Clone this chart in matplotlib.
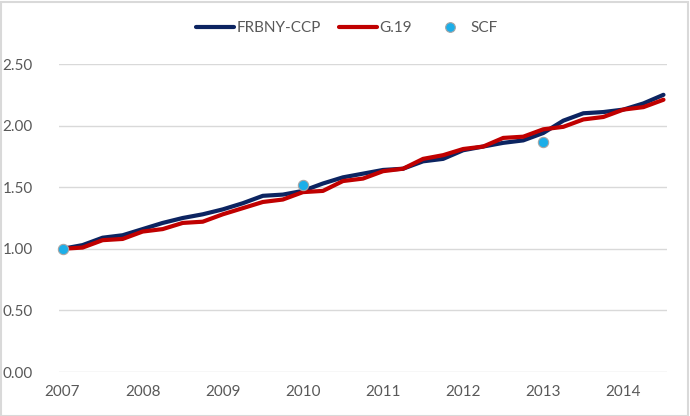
import matplotlib
matplotlib.use("Agg")
import matplotlib.pyplot as plt
from matplotlib.lines import Line2D
from matplotlib.patches import Rectangle

plt.rcParams['font.family'] = ['Lato', 'DejaVu Sans']

# Quarterly index values, 2007Q1 .. 2014Q3
quarters = [2007 + i * 0.25 for i in range(31)]
frbny_ccp = [1.00, 1.03, 1.09, 1.11, 1.16, 1.21, 1.25, 1.28, 1.32, 1.37,
             1.43, 1.44, 1.47, 1.53, 1.58, 1.61, 1.64, 1.65, 1.71, 1.73,
             1.80, 1.83, 1.86, 1.88, 1.94, 2.04, 2.10, 2.11, 2.13, 2.18, 2.25]
g19 = [1.00, 1.01, 1.07, 1.08, 1.14, 1.16, 1.21, 1.22, 1.28, 1.33,
       1.38, 1.40, 1.46, 1.47, 1.55, 1.57, 1.63, 1.65, 1.73, 1.76,
       1.81, 1.83, 1.90, 1.91, 1.97, 1.99, 2.05, 2.07, 2.13, 2.15, 2.21]
scf_years = [2007, 2010, 2013]
scf = [1.00, 1.52, 1.87]

year_ticks = [2007, 2008, 2009, 2010, 2011, 2012, 2013, 2014]
y_ticks = [0.0, 0.5, 1.0, 1.5, 2.0, 2.5]

c_blue = '#0C2461'
c_red = '#C00000'
c_scf = '#1CAEE8'
c_text = '#595959'
c_grid = '#D9D9D9'

fig = plt.figure(figsize=(6.9, 4.16), dpi=100)
ax = fig.add_axes([59 / 690, 1 - 372 / 416, (667 - 59) / 690, (372 - 64) / 416])

ax.plot(quarters, frbny_ccp, color=c_blue, lw=3.0, solid_joinstyle='round',
        solid_capstyle='round', zorder=3)
ax.plot(quarters, g19, color=c_red, lw=3.0, solid_joinstyle='round',
        solid_capstyle='round', zorder=4)
ax.scatter(scf_years, scf, s=55, color=c_scf, edgecolor='#A6A6A6', linewidth=0.8,
           zorder=5, clip_on=False)

ax.set_xlim(2006.956, 2014.544)
ax.set_ylim(0, 2.5)
ax.set_xticks(year_ticks)
ax.set_xticklabels([str(y) for y in year_ticks])
ax.set_yticks(y_ticks)
ax.set_yticklabels([f'{v:.2f}' for v in y_ticks])
ax.grid(axis='y', color=c_grid, lw=1.0, zorder=0)
ax.set_axisbelow(True)
for s in ax.spines.values():
    s.set_visible(False)
ax.tick_params(axis='both', length=0, colors=c_text, labelsize=11)
ax.tick_params(axis='x', pad=9)
ax.tick_params(axis='y', pad=19)

handles = [
    Line2D([0], [0], color=c_blue, lw=3.0, solid_capstyle='round'),
    Line2D([0], [0], color=c_red, lw=3.0, solid_capstyle='round'),
    Line2D([0], [0], color=c_scf, lw=0, marker='o', markersize=7,
           markeredgecolor='#A6A6A6', markeredgewidth=0.8),
]
leg = fig.legend(handles, ['FRBNY-CCP', 'G.19', 'SCF'], loc='center',
                 bbox_to_anchor=(347 / 690, 1 - 28 / 416), ncol=3, frameon=False,
                 fontsize=11, handlelength=2.5, handletextpad=0.15, columnspacing=1.2)
for t in leg.get_texts():
    t.set_color(c_text)

fig.patches.append(Rectangle((0.5 / 690, 0.5 / 416), 1 - 3 / 690, 1 - 2 / 416,
                             transform=fig.transFigure, fill=False,
                             edgecolor=c_grid, lw=1.5))

fig.savefig('out.png', dpi=100)
